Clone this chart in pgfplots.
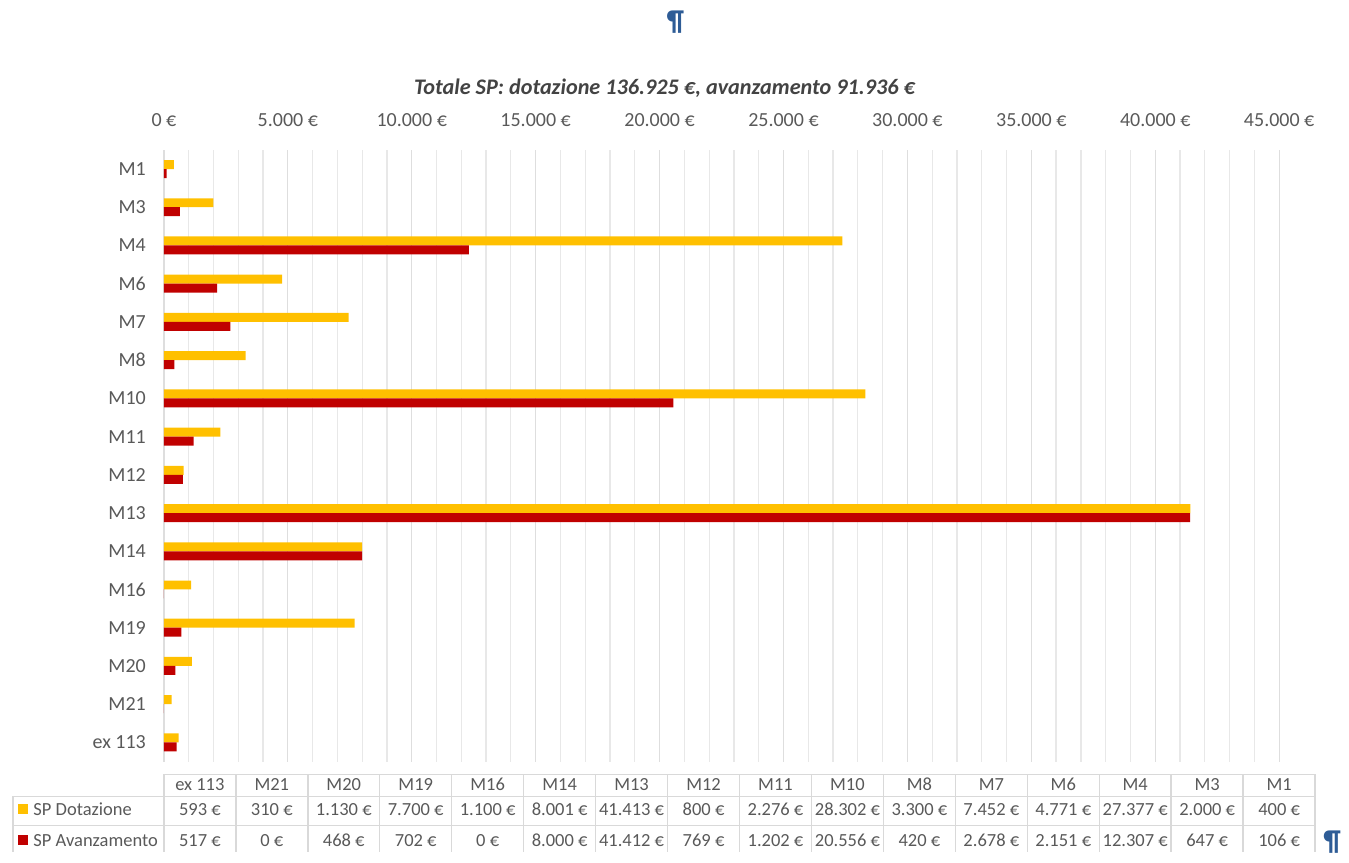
\documentclass[border=0pt]{standalone}
\usepackage{fontspec}
\setmainfont{Carlito}
\usepackage{pgfplots}
\usepackage{pgfplotstable}
\pgfplotsset{compat=1.18}

\definecolor{dotaz}{HTML}{FFC000}
\definecolor{avanz}{HTML}{C00000}
\definecolor{txt}{HTML}{595959}
\definecolor{gridmaj}{HTML}{DEDEDE}
\definecolor{gridmin}{HTML}{E8E8E8}
\definecolor{tabline}{HTML}{D9D9D9}
\definecolor{pilcrow}{HTML}{2E5C96}

% categories from bottom (0) to top (15)
\pgfplotstableread[col sep=comma]{
idx,name,dot,ava
0,ex 113,593,517
1,M21,310,0
2,M20,1130,468
3,M19,7700,702
4,M16,1100,0
5,M14,8001,8000
6,M13,41413,41412
7,M12,800,769
8,M11,2276,1202
9,M10,28302,20556
10,M8,3300,420
11,M7,7452,2678
12,M6,4771,2151
13,M4,27377,12307
14,M3,2000,647
15,M1,400,106
}\data

\newcommand{\euro}[1]{\pgfmathprintnumber[fixed,precision=0,1000 sep={.},assume math mode=true]{#1}~€}

\begin{document}
\begin{tikzpicture}[font=\fontsize{8}{9.6}\selectfont, text=txt]
\begin{scope}[x=0.4pt,y=-0.4pt]
\path[use as bounding box] (0,0) rectangle (1349,853);
\end{scope}

\begin{axis}[
  at={(65.6pt,-304.8pt)}, anchor=south west,
  scale only axis, width=446.4pt, height=244.8pt,
  xbar, bar width=3.6pt,
  xmin=0, xmax=45000, ymin=-0.5, ymax=15.5,
  scaled x ticks=false,
  xtick={0,5000,...,45000},
  xticklabels={0~€,5.000~€,10.000~€,15.000~€,20.000~€,25.000~€,30.000~€,35.000~€,40.000~€,45.000~€},
  minor x tick num=4,
  xmajorgrids, xminorgrids,
  major grid style={gridmaj, line width=0.5pt},
  minor grid style={gridmin, line width=0.5pt},
  axis line style={draw=none},
  major tick length=0pt, minor tick length=0pt,
  xticklabel pos=upper,
  xticklabel style={anchor=base, yshift=9.2pt},
  ytick={0,...,15},
  yticklabels from table={\data}{name},
  yticklabel style={xshift=-3.7pt},
  tick label style={text=txt, font=\fontsize{8}{9.6}\selectfont},
]
\addplot[fill=dotaz, draw=none, bar shift=1.8pt] table[x=dot, y=idx]{\data};
\addplot[fill=avanz, draw=none, bar shift=-1.8pt] table[x=ava, y=idx]{\data};
\end{axis}

\begin{scope}[x=0.4pt,y=-0.4pt]
\node[font=\fontsize{8.9}{10.5}\bfseries\itshape\selectfont, text=txt!75!black] at (665,88)
  {Totale SP: dotazione 136.925~€, avanzamento 91.936~€};
% data table
\begin{scope}[tabline, line width=0.6pt]
\draw (164,775) -- (1316,775);
\draw (13,797) -- (1316,797);
\draw (13,826) -- (1316,826);
\draw (13,797) -- (13,853);
\foreach \k in {0,...,16} \draw (164+72*\k,775) -- (164+72*\k,853);
\end{scope}
\begin{scope}[every node/.style={font=\fontsize{7.4}{9}\selectfont, inner sep=0pt}]
\fill[dotaz] (18,805) rectangle (28,815);
\node[anchor=base west] at (33,816) {SP Dotazione};
\fill[avanz] (18,836) rectangle (28,846);
\node[anchor=base west] at (33,847) {SP Avanzamento};
\foreach \i in {0,...,15}{
  \pgfplotstablegetelem{\i}{name}\of\data
  \node[anchor=base] at (200+72*\i,791) {\pgfplotsretval};
  \pgfplotstablegetelem{\i}{dot}\of\data
  \node[anchor=base] at (200+72*\i,816) {\euro{\pgfplotsretval}};
  \pgfplotstablegetelem{\i}{ava}\of\data
  \node[anchor=base] at (200+72*\i,847) {\euro{\pgfplotsretval}};
}
\end{scope}
% paragraph marks
\node[text=pilcrow, font=\fontsize{11.5}{12}\bfseries\selectfont] at (676,22) {¶};
\node[text=pilcrow, font=\fontsize{11.5}{12}\bfseries\selectfont] at (1333,843) {¶};
\end{scope}
\end{tikzpicture}
\end{document}
